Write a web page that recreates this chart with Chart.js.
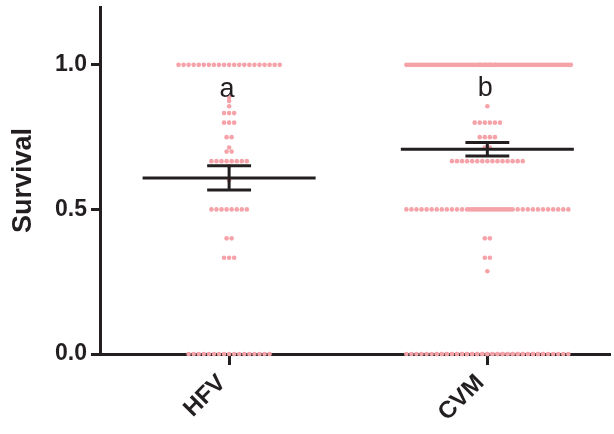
<!DOCTYPE html>
<html>
<head>
<meta charset="utf-8">
<script src="https://cdn.jsdelivr.net/npm/chart.js@4.4.1/dist/chart.umd.min.js"></script>
<style>
  html, body { margin: 0; padding: 0; background: #fff; }
</style>
</head>
<body>
<canvas id="survivalChart" width="614" height="434"></canvas>
<script>
const groups = ["HFV", "CVM"];
const letters = ["a", "b"];
const letterY = [0.889, 0.893];
const yTicks = [0, 0.5, 1.0];

// survival levels and how many animals sit at each level
const hfvLevels = [1.0, 0.889, 0.875, 0.857, 0.833, 0.8, 0.75, 0.714, 0.7, 0.667, 0.65, 0.6, 0.5, 0.4, 0.333, 0];
const hfvCounts = [21, 1, 1, 1, 3, 3, 2, 1, 2, 8, 1, 1, 8, 2, 3, 17];
const cvmLevels = [1.0, 0.857, 0.8, 0.75, 0.714, 0.667, 0.5, 0.4, 0.333, 0.286, 0];
const cvmCounts = [70, 1, 6, 4, 2, 15, 42, 2, 2, 1, 55];

const means = [0.609, 0.708];
const sems = [0.042, 0.023];

const ink = "#231f20";
const dotColor = "#f5a3a9";
const fontFamily = "'Liberation Sans', Arial, Helvetica, sans-serif";

const DOT_STEP = 0.0196;
const ROW_MAX = 33;
const MEAN_HALF = 0.335;
const CAP_HALF = 0.085;

// spread equal values side by side, wrapping extra dots onto an offset layer
function swarm(center, levels, counts) {
  const pts = [];
  levels.forEach((y, li) => {
    let left = counts[li];
    let layer = 0;
    while (left > 0) {
      const n = Math.min(left, ROW_MAX);
      const shift = layer % 2 ? DOT_STEP / 2 : 0;
      for (let i = 0; i < n; i++) {
        pts.push({ x: center + (i - (n - 1) / 2) * DOT_STEP + shift, y: y });
      }
      left -= n;
      layer++;
    }
  });
  return pts;
}

const dots = swarm(0, hfvLevels, hfvCounts).concat(swarm(1, cvmLevels, cvmCounts));

const meanLine = [];
const errorBars = [];
means.forEach((m, i) => {
  const hi = m + sems[i], lo = m - sems[i];
  meanLine.push({ x: i - MEAN_HALF, y: m }, { x: i + MEAN_HALF, y: m }, { x: i, y: null });
  errorBars.push(
    { x: i, y: lo }, { x: i, y: hi }, { x: i, y: null },
    { x: i - CAP_HALF, y: hi }, { x: i + CAP_HALF, y: hi }, { x: i, y: null },
    { x: i - CAP_HALF, y: lo }, { x: i + CAP_HALF, y: lo }, { x: i, y: null }
  );
});

const letterPlugin = {
  id: "groupLetters",
  afterDatasetsDraw(chart) {
    const { ctx, scales: { x, y } } = chart;
    ctx.save();
    ctx.font = "27px " + fontFamily;
    ctx.fillStyle = ink;
    ctx.textAlign = "center";
    ctx.textBaseline = "alphabetic";
    letters.forEach((t, i) => ctx.fillText(t, x.getPixelForValue(i) - 2, y.getPixelForValue(letterY[i])));
    ctx.restore();
  }
};

const lineStyle = {
  type: "line",
  borderColor: ink,
  borderWidth: 3,
  pointRadius: 0,
  spanGaps: false,
  fill: false,
  clip: false
};

new Chart(document.getElementById("survivalChart"), {
  type: "scatter",
  data: {
    datasets: [
      Object.assign({ label: "SEM", data: errorBars }, lineStyle),
      Object.assign({ label: "Mean", data: meanLine }, lineStyle),
      {
        label: "Survival",
        data: dots,
        pointRadius: 2.3,
        pointBackgroundColor: dotColor,
        pointBorderWidth: 0,
        clip: false
      }
    ]
  },
  options: {
    responsive: false,
    animation: false,
    layout: { padding: { top: 7, left: 0, right: 0, bottom: 0 } },
    plugins: { legend: { display: false }, tooltip: { enabled: false } },
    scales: {
      x: {
        type: "linear",
        min: -0.5,
        max: 1.475,
        afterBuildTicks: s => { s.ticks = groups.map((_, i) => ({ value: i })); },
        afterFit: s => { s.height = 80; s.paddingLeft = 0; s.paddingRight = 0; },
        border: { color: ink, width: 3 },
        grid: { drawOnChartArea: false, tickLength: 11, tickWidth: 3, tickColor: ink },
        ticks: {
          callback: (v, i) => groups[i],
          autoSkip: false,
          minRotation: 45,
          maxRotation: 45,
          padding: 4,
          labelOffset: -7,
          color: ink,
          font: { family: fontFamily, size: 24, weight: "bold" }
        }
      },
      y: {
        min: 0,
        max: 1.2,
        afterBuildTicks: s => { s.ticks = yTicks.map(v => ({ value: v })); },
        afterFit: s => { s.width = 100; s.paddingTop = 0; s.paddingBottom = 0; },
        border: { color: ink, width: 3 },
        grid: { drawOnChartArea: false, tickLength: 9, tickWidth: 3, tickColor: ink },
        ticks: {
          callback: v => v.toFixed(1),
          padding: 4,
          color: ink,
          font: { family: fontFamily, size: 23, weight: "bold" }
        },
        title: {
          display: true,
          text: "Survival",
          color: ink,
          padding: { top: 7, bottom: 0 },
          font: { family: fontFamily, size: 27, weight: "bold" }
        }
      }
    }
  },
  plugins: [letterPlugin]
});
</script>
</body>
</html>
